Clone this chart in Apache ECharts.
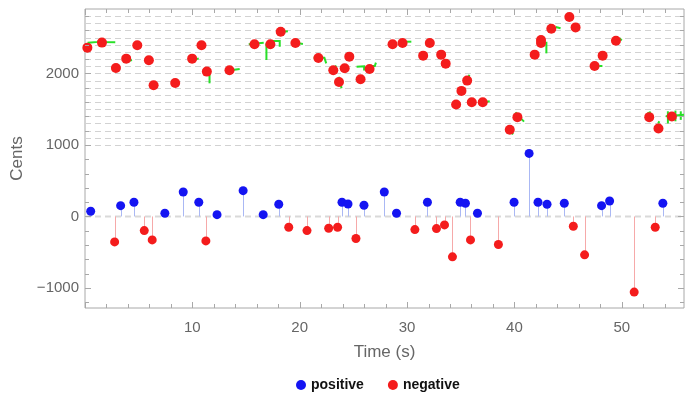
<!DOCTYPE html>
<html><head><meta charset="utf-8">
<script src="https://cdn.jsdelivr.net/npm/echarts@6/dist/echarts.min.js"></script>
<style>html,body{margin:0;padding:0;background:#fff}#c{width:698px;height:415px}</style>
</head><body><div id="c"></div>
<script>
// ---- data ----
const posT = [0.53,3.32,4.56,7.44,9.15,10.6,12.3,14.73,16.6,18.05,23.94,24.5,25.99,27.88,29.02,31.9,34.95,35.44,36.56,39.97,41.37,42.2,43.04,44.65,48.12,48.87,53.83];
const posC = [72,151,198,44,342,198,25,360,25,170,198,174,156,342,44,198,198,184,44,198,881,198,170,184,151,216,184];

const negT = [2.76,5.52,6.26,11.26,18.98,20.68,22.7,23.53,25.24,30.73,32.74,33.49,34.23,35.91,38.51,45.49,46.54,51.16,53.12];
const negC = [-356,-198,-328,-342,-151,-198,-165,-151,-309,-184,-170,-118,-565,-328,-393,-137,-537,-1058,-151];

const upT = [0.22,1.58,2.88,3.84,4.87,5.95,6.39,8.4,9.98,10.85,11.35,13.46,15.79,17.27,18.23,19.6,21.74,23.13,23.66,24.19,24.62,25.67,26.51,28.65,29.58,31.5,32.12,33.18,33.6,34.57,35.07,35.6,36.03,37.05,39.57,40.28,41.89,42.48,42.48,43.44,45.12,45.7,47.47,48.22,49.46,52.56,53.42,54.67];
const upC = [2360,2430,2075,2206,2392,2183,1834,1866,2206,2392,2025,2043,2406,2406,2583,2424,2215,2043,1880,2071,2234,1918,2061,2406,2424,2248,2424,2262,2136,1565,1755,1899,1597,1597,1211,1388,2262,2466,2424,2625,2787,2643,2103,2248,2457,1388,1230,1397];

// green pitch-trace strokes (time, cents)
const greenSegs = [
  [[0.33,2303],[0.33,2429],[1.2,2440],[1.4,2476],[1.7,2440],[2.82,2435]],
  [[3.59,2155],[4.38,2187]],
  [[9.66,2163],[10.59,2210]],
  [[11.6,2001],[11.6,1861]],
  [[13.08,2033],[14.41,2061]],
  [[15.25,2406],[16.65,2429]],
  [[16.9,2420],[16.9,2187]],
  [[17.43,2452],[18.14,2452],[18.14,2372]],
  [[18.5,2583],[18.9,2590]],
  [[19.9,2420],[20.3,2410]],
  [[21.3,2219],[22.3,2219],[22.47,2140]],
  [[23.2,2060],[23.4,2110]],
  [[23.64,1953],[23.9,1791]],
  [[25.3,2093],[26.0,2100],[26.0,2040]],
  [[26.6,2103],[27.0,2103],[27.1,2150]],
  [[30.0,2443],[30.4,2443]],
  [[35.7,1920],[35.8,1980]],
  [[37.3,1600],[37.7,1610]],
  [[40.1,1456],[40.4,1400],[40.9,1325]],
  [[39.6,1180],[39.9,1150]],
  [[42.98,2442],[42.98,2280]],
  [[43.85,2648],[44.3,2630]],
  [[47.9,2103],[48.2,2103]],
  [[49.8,2490],[50.0,2460]],
  [[52.4,1440],[52.7,1460]],
  [[53.4,1300],[53.5,1330]],
  [[54.1,1400],[55.8,1420]],
  [[54.3,1300],[54.3,1470]],
  [[55.0,1330],[55.0,1480]],
  [[55.5,1350],[55.5,1470]]
];

const gridLevels = [0,1000,1100,1200,1300,1400,1500,1600,1700,1800,1900,2000,2100,2200,2300,2400,2500,2600,2700,2800];
const xTicks = [0,2,4,6,8,10,12,14,16,18,20,22,24,26,28,30,32,34,36,38,40,42,44,46,48,50,52,54];
const yTicks = [-1200,-1000,-800,-600,-400,-200,0,200,400,600,800,1000,1200,1400,1600,1800,2000,2200,2400,2600,2800];
const xLabels = [10,20,30,40,50];
const yLabels = [-1000,0,1000,2000];

const BLUE = '#1414f2', RED = '#f41c1c';
const BLUE_STEM = '#aab8f4', RED_STEM = '#f6a9a9';
const FONT = '"Liberation Sans", Arial, sans-serif';

const chart = echarts.init(document.getElementById('c'), null, {renderer:'canvas'});

function stemSeries(ts, cs, color){
  return {
    type:'custom', name:'stem'+color, z:2, silent:true,
    data: ts.map((t,i)=>[t, cs[i]]),
    renderItem:(params, api)=>{
      const p0 = api.coord([api.value(0), 0]);
      const p1 = api.coord([api.value(0), api.value(1)]);
      const x = Math.round(p0[0]) + 0.5;
      return {type:'line', shape:{x1:x,y1:p0[1],x2:x,y2:p1[1]}, style:{stroke:color, lineWidth:1}};
    }
  };
}

const option = {
  animation:false,
  backgroundColor:'#fff',
  textStyle:{fontFamily:FONT},
  grid:{left:85, right:14, top:9, bottom:107, show:true, borderColor:'#a8a8a8', borderWidth:1, containLabel:false},
  legend:{
    data:[{name:'positive', icon:'circle'},{name:'negative', icon:'circle'}],
    left:291, top:373, itemWidth:10, itemHeight:10, itemGap:24,
    textStyle:{fontSize:14, fontWeight:'bold', color:'#111', fontFamily:FONT}
  },
  xAxis:{
    type:'value', min:0, max:55.8, interval:10,
    name:'Time (s)', nameLocation:'middle', nameGap:36,
    nameTextStyle:{fontSize:17, color:'#666', fontFamily:FONT},
    axisLine:{show:false}, axisTick:{show:false}, splitLine:{show:false},
    axisLabel:{fontSize:15, color:'#666', margin:12, fontFamily:FONT,
      formatter:v=> xLabels.indexOf(v) >= 0 ? String(v) : ''}
  },
  yAxis:{
    type:'value', min:-1280, max:2900, splitNumber:4,
    name:'Cents', nameLocation:'middle', nameGap:56, nameRotate:90,
    nameTextStyle:{fontSize:17, color:'#666', fontFamily:FONT},
    axisLine:{show:false}, axisTick:{show:false}, splitLine:{show:false},
    axisLabel:{fontSize:15, color:'#666', margin:6, fontFamily:FONT,
      formatter:v=> yLabels.indexOf(v) >= 0 ? (v<0 ? '\u2212'+Math.abs(v) : String(v)) : ''}
  },
  series:[
    {
      type:'custom', name:'gridlines', z:1, silent:true,
      data: gridLevels.map(v=>[0, v]),
      renderItem:(params, api)=>{
        const cs = params.coordSys;
        const v = api.value(1);
        const y = Math.round(api.coord([0, v])[1]) + 0.5;
        return {type:'line', shape:{x1:cs.x, y1:y, x2:cs.x+cs.width, y2:y},
          style:{stroke: v===0 ? '#d9d9d9' : '#d2d2d2', lineWidth: v===0 ? 2 : 1, lineDash:[6,4]}};
      }
    },
    stemSeries(posT, posC, BLUE_STEM),
    stemSeries(negT, negC, RED_STEM),
    {
      type:'custom', name:'trace', z:3, silent:true,
      data: greenSegs.map((s,i)=>[s[0][0], s[0][1]]),
      renderItem:(params, api)=>{
        const seg = greenSegs[params.dataIndex];
        const pts = seg.map(p=>api.coord(p));
        return {type:'polyline', shape:{points:pts}, style:{stroke:'#28e028', lineWidth:2, fill:null}};
      }
    },
    {
      type:'scatter', name:'positive', z:5, symbol:'circle', symbolSize:9,
      itemStyle:{color:BLUE, opacity:1},
      data: posT.map((t,i)=>[t, posC[i]])
    },
    {
      type:'scatter', name:'negative', z:5, symbol:'circle', symbolSize:9,
      itemStyle:{color:RED, opacity:1},
      data: negT.map((t,i)=>[t, negC[i]])
    },
    {
      type:'scatter', name:'negative', z:5, symbol:'circle', symbolSize:10,
      itemStyle:{color:RED, opacity:1},
      data: upT.map((t,i)=>[t, upC[i]])
    },
    {
      type:'custom', name:'xticks', z:6, silent:true, clip:false,
      data: xTicks.map(v=>[v, 0]),
      renderItem:(params, api)=>{
        const cs = params.coordSys;
        const v = api.value(0);
        const x = Math.round(api.coord([v, 0])[0]) + 0.5;
        const len = v % 10 === 0 ? 6 : 4;
        const b = cs.y + cs.height, t = cs.y;
        return {type:'group', children:[
          {type:'line', shape:{x1:x,y1:b,x2:x,y2:b-len}, style:{stroke:'#a8a8a8', lineWidth:1}},
          {type:'line', shape:{x1:x,y1:t,x2:x,y2:t+len}, style:{stroke:'#a8a8a8', lineWidth:1}}
        ]};
      }
    },
    {
      type:'custom', name:'yticks', z:6, silent:true, clip:false,
      data: yTicks.map(v=>[0, v]),
      renderItem:(params, api)=>{
        const cs = params.coordSys;
        const v = api.value(1);
        const y = Math.round(api.coord([0, v])[1]) + 0.5;
        const len = v % 1000 === 0 ? 6 : 4;
        const l = cs.x, r = cs.x + cs.width;
        return {type:'group', children:[
          {type:'line', shape:{x1:l,y1:y,x2:l+len,y2:y}, style:{stroke:'#a8a8a8', lineWidth:1}},
          {type:'line', shape:{x1:r,y1:y,x2:r-len,y2:y}, style:{stroke:'#a8a8a8', lineWidth:1}}
        ]};
      }
    }
  ]
};
chart.setOption(option);
</script>
</body></html>
